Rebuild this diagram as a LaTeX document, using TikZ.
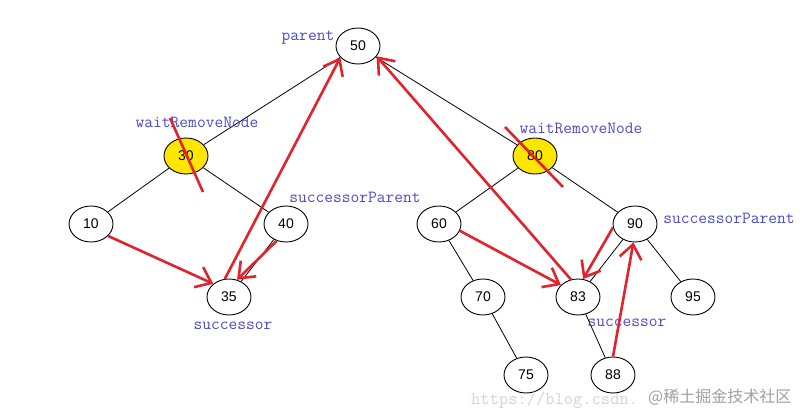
\documentclass[tikz,border=0pt]{standalone}
\usepackage{fontspec}
\setmainfont{Liberation Sans}
\newfontfamily\cjkfont{Noto Sans CJK SC}
\usetikzlibrary{shapes.geometric,arrows.meta}
\definecolor{lblue}{RGB}{75,75,200}
\definecolor{ared}{RGB}{225,35,45}
\definecolor{nyellow}{RGB}{255,230,0}
\definecolor{wmlight}{RGB}{212,212,212}
\definecolor{wmdark}{RGB}{160,160,160}
\tikzset{
  tn/.style={ellipse,draw=black,line width=0.9pt,minimum width=44pt,minimum height=36pt,inner sep=0pt,fill=white,font=\fontsize{14}{16}\selectfont},
  hl/.style={tn,fill=nyellow},
  edge/.style={draw=black,line width=0.8pt},
  lab/.style={text=lblue,font=\ttfamily\fontsize{17}{19}\selectfont,inner sep=0pt},
  rarrow/.style={draw=ared,line width=2.6pt,-{Straight Barb[length=14pt,width=22pt]}},
  strike/.style={draw=ared,line width=2.6pt},
  wm/.style={inner sep=0pt,anchor=west},
}
\begin{document}
\begin{tikzpicture}[x=1pt,y=-1pt]
\useasboundingbox[fill=white] (0,0) rectangle (812,419);
% nodes
\node[tn] (n50) at (358,46) {50};
\node[hl] (n30) at (186,156) {30};
\node[hl] (n80) at (535,156) {80};
\node[tn] (n10) at (91,224) {10};
\node[tn] (n40) at (286,224) {40};
\node[tn] (n35) at (229,297) {35};
\node[tn] (n60) at (439,224) {60};
\node[tn] (n90) at (635,224) {90};
\node[tn] (n70) at (483,297) {70};
\node[tn] (n83) at (578,297) {83};
\node[tn] (n95) at (693,297) {95};
\node[tn] (n75) at (526,375) {75};
\node[tn] (n88) at (613,375) {88};
% tree edges
\path[edge] (n50) -- (n30);
\path[edge] (n50) -- (n80);
\path[edge] (n30) -- (n10);
\path[edge] (n30) -- (n40);
\path[edge] (n40) -- (n35);
\path[edge] (n80) -- (n60);
\path[edge] (n80) -- (n90);
\path[edge] (n60) -- (n70);
\path[edge] (n70) -- (n75);
\path[edge] (n90) -- (n83);
\path[edge] (n90) -- (n95);
\path[edge] (n83) -- (n88);
% labels
\node[lab] (lparent) at (308,38) {parent};
\node[lab] (lwait1) at (197,122) {waitRemoveNode};
\node[lab] (lsp1) at (355,197) {successorParent};
\node[lab] (ls1) at (233,326) {successor};
\node[lab] (lwait2) at (581,128) {waitRemoveNode};
\node[lab] (lsp2) at (729,218) {successorParent};
\node[lab] (ls2) at (627,323) {successor};
% watermark
\node[wm,text=wmlight,font=\ttfamily\fontsize{18}{20}\selectfont] (wurl) at (471,400) {https://blog.csdn.};
\node[wm,text=wmdark,font=\cjkfont\fontsize{16}{18}\selectfont] (wcjk) at (648,397) {@稀土掘金技术社区};
% strike lines
\coordinate (s1a) at ([shift={(-16,-38)}]n30.center);
\coordinate (s1b) at ([shift={(17,36)}]n30.center);
\coordinate (s2a) at ([shift={(-30,-29)}]n80.center);
\coordinate (s2b) at ([shift={(28,31)}]n80.center);
\path[strike] (s1a) -- (s1b);
\path[strike] (s2a) -- (s2b);
% red arrows
\path[rarrow] (n10.-35) -- (n35.140);
\path[rarrow] (n40.-119) -- (n35.65);
\path[rarrow] (n35.103) -- (n50.213);
\path[rarrow] (n83.112) -- (n50.-29);
\path[rarrow] (n60.-18) -- (n83.145);
\path[rarrow] (n90.-171) -- (n83.74);
\path[rarrow] (n88.90) -- (n90.-95);
\end{tikzpicture}
\end{document}
